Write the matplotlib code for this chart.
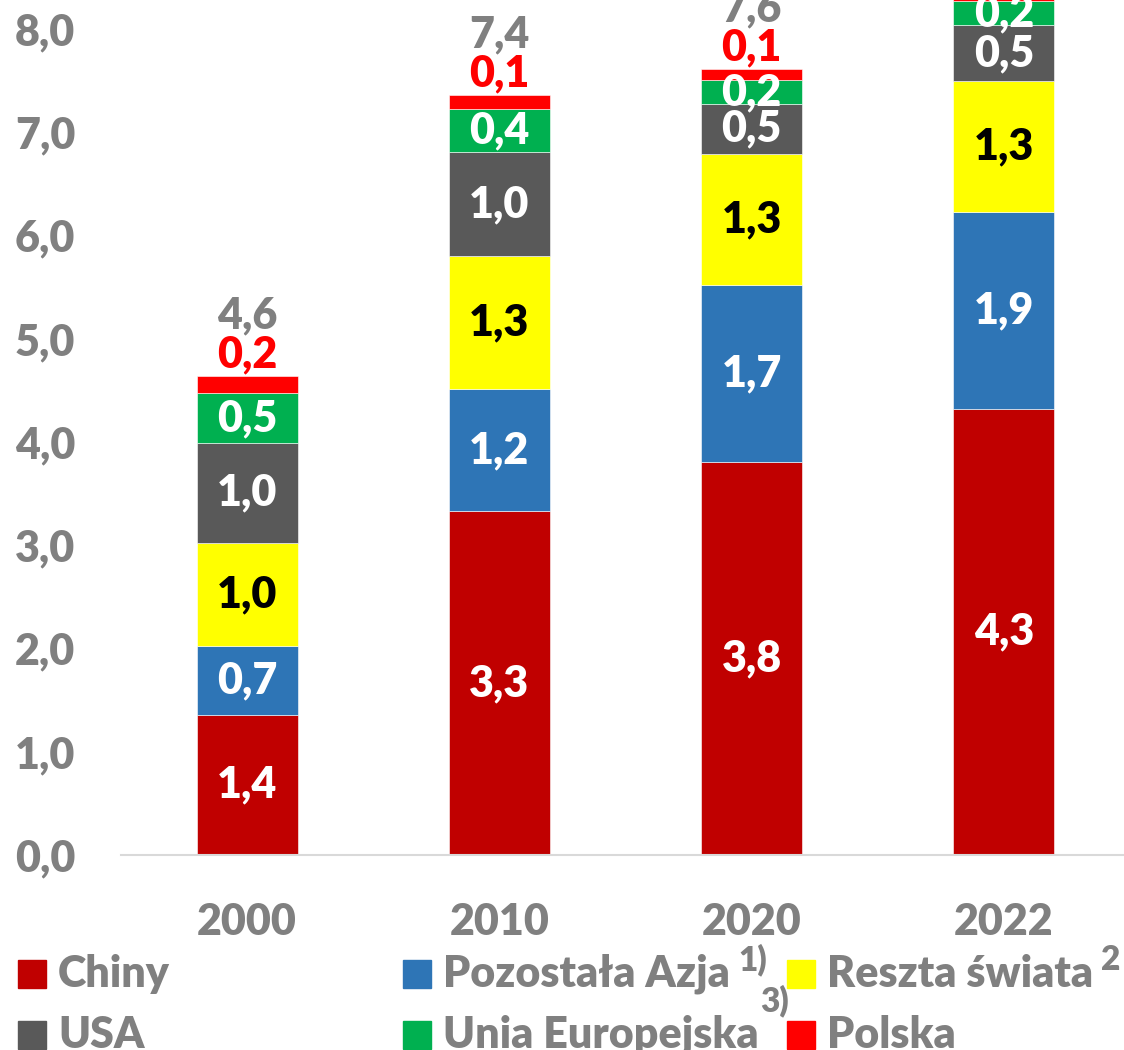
import matplotlib.pyplot as plt
from matplotlib.patches import Rectangle
import numpy as np

plt.rcParams['font.family'] = ['Lato', 'DejaVu Sans']
W8 = 'heavy'
plt.rcParams['font.weight'] = W8

# data (mln t)
years = ['2000', '2010', '2020', '2022']
series = ['Chiny', 'Pozostała Azja', 'Reszta świata', 'USA', 'Unia Europejska', 'Polska']
chiny = [1.36, 3.33, 3.80, 4.32]
azja = [0.66, 1.18, 1.72, 1.90]
reszta = [1.00, 1.29, 1.27, 1.27]
usa = [0.97, 1.00, 0.48, 0.54]
ue = [0.48, 0.42, 0.23, 0.24]
polska = [0.17, 0.14, 0.11, 0.12]
legend_notes = ['', '1)', '2', '', '3)', '']

colors = ['#C00000', '#2E75B6', '#FFFF00', '#595959', '#00B050', '#FF0000']
label_colors = ['white', 'white', 'black', 'white', 'white', None]
grey = '#808080'
fs = 31

fig = plt.figure(figsize=(11.24, 10.5), dpi=100)
ax = fig.add_axes([0.1077, 0.1857, 0.8923, 0.8143])

x = np.arange(len(years))
bottom = np.zeros(len(years))
for vals, col, lc in zip([chiny, azja, reszta, usa, ue, polska], colors, label_colors):
    vals = np.array(vals)
    ax.bar(x, vals, 0.4, bottom=bottom, color=col, edgecolor='white', linewidth=0.4)
    for xi, b, v in zip(x, bottom, vals):
        txt = f'{v:.1f}'.replace('.', ',')
        if lc is None:
            ax.annotate(txt, (xi, b + v), xytext=(0, 6), textcoords='offset points',
                        ha='center', va='baseline', color='#FF0000', fontsize=fs,
                        fontweight=W8, annotation_clip=False)
        else:
            ax.text(xi, b + v / 2, txt, ha='center', va='center', color=lc,
                    fontsize=fs, fontweight=W8)
    bottom = bottom + vals

# totals above the bars
for xi, t in zip(x, bottom):
    ax.annotate(f'{t:.1f}'.replace('.', ','), (xi, t), xytext=(0, 34),
                textcoords='offset points', ha='center', va='baseline', color=grey,
                fontsize=fs, fontweight=W8, annotation_clip=False)

ax.set_xlim(-0.5, 3.476)
ax.set_ylim(0, 8.276)
ax.set_xticks(x)
ax.set_xticklabels(years)
ax.set_yticks(np.arange(0, 8.1, 1.0))
ax.set_yticklabels([f'{v:.1f}'.replace('.', ',') for v in np.arange(0, 8.1, 1.0)])
ax.tick_params(axis='both', length=0, labelsize=fs, labelcolor=grey)
ax.tick_params(axis='x', pad=34)
ax.tick_params(axis='y', pad=33)
for lab in ax.get_xticklabels() + ax.get_yticklabels():
    lab.set_fontweight(W8)
for s in ['top', 'right', 'left']:
    ax.spines[s].set_visible(False)
ax.spines['bottom'].set_color('#D9D9D9')
ax.spines['bottom'].set_linewidth(1.5)

# legend drawn by hand: 3 equal columns, 2 rows
W, H = 1124, 1050
col_x = [18, 403, 787]
row_y = [960, 1021]
sq = 28
for i, (name, col, note) in enumerate(zip(series, colors, legend_notes)):
    r, c = divmod(i, 3)
    x0, y0 = col_x[c], row_y[r]
    fig.patches.append(Rectangle((x0 / W, 1 - (y0 + sq) / H), sq / W, sq / H,
                                 transform=fig.transFigure, color=col))
    t = fig.text((x0 + sq + 12) / W, 1 - (y0 + sq / 2) / H, name, ha='left',
                 va='center', fontsize=fs, fontweight=W8, color=grey)
    if note:
        fig.canvas.draw()
        bb = t.get_window_extent()
        if r == 0:
            fig.text((bb.x1 + 8) / W, (bb.y1 + 10) / H, note, ha='left', va='top',
                     fontsize=24, fontweight=W8, color=grey)
        else:
            fig.text((bb.x1 + 2) / W, (bb.y1 + 30) / H, note, ha='left', va='top',
                     fontsize=24, fontweight=W8, color=grey)

fig.savefig('out.png', dpi=100)
